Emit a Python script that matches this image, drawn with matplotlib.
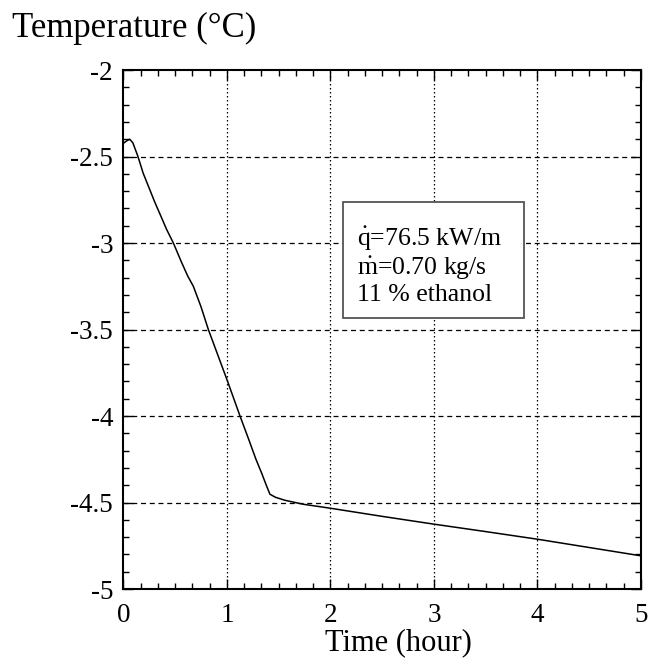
import matplotlib
matplotlib.use("Agg")
import matplotlib.pyplot as plt
from matplotlib.ticker import MultipleLocator
from matplotlib.patches import Rectangle

time_h = [0, 0.03, 0.06, 0.09, 0.14, 0.19, 0.30, 0.418, 0.482, 0.56, 0.62, 0.675,
          0.75, 0.82, 0.91, 1.0, 1.126, 1.21, 1.28, 1.335, 1.38, 1.415, 1.47, 1.56,
          1.737, 2.0, 2.5, 3.0, 3.5, 4.0, 4.5, 5.0]
temp_c = [-2.423, -2.41, -2.40, -2.42, -2.50, -2.596, -2.76, -2.923, -3.0, -3.11,
          -3.19, -3.25, -3.37, -3.5, -3.645, -3.79, -4.0, -4.135, -4.25, -4.33,
          -4.40, -4.452, -4.47, -4.487, -4.51, -4.533, -4.58, -4.625, -4.668,
          -4.712, -4.76, -4.808]
x_ticks = [0, 1, 2, 3, 4, 5]
x_tick_labels = ["0", "1", "2", "3", "4", "5"]
y_ticks = [-5, -4.5, -4, -3.5, -3, -2.5, -2]
y_tick_labels = ["-5", "-4.5", "-4", "-3.5", "-3", "-2.5", "-2"]
annotation_lines = [r"$\dot{\mathrm{q}}$=76.5 kW/m", r"$\dot{\mathrm{m}}$=0.70 kg/s",
                    "11 % ethanol"]

plt.rcParams["mathtext.fontset"] = "custom"
plt.rcParams["mathtext.rm"] = "Liberation Serif"
plt.rcParams["mathtext.it"] = "Liberation Serif:italic"
serif = ["Liberation Serif", "DejaVu Serif"]

fig = plt.figure(figsize=(6.52, 6.67), dpi=100)
ax = fig.add_axes([0.1894, 0.1169, 0.7936, 0.7781])

ax.plot(time_h, temp_c, color="black", lw=1.1)

ax.set_xlim(0, 5)
ax.set_ylim(-5, -2)
ax.set_xticks(x_ticks)
ax.set_xticklabels(x_tick_labels, fontfamily=serif, fontsize=19.5)
ax.set_yticks(y_ticks)
ax.set_yticklabels(y_tick_labels, fontfamily=serif, fontsize=19.5)
ax.xaxis.set_minor_locator(MultipleLocator(1/6))
ax.yaxis.set_minor_locator(MultipleLocator(0.1))
ax.tick_params(which="both", direction="in", top=True, right=True, color="black")
ax.tick_params(which="major", length=7, width=1)
ax.tick_params(which="minor", length=4, width=1)
ax.tick_params(axis="x", which="major", pad=10)
ax.tick_params(axis="y", which="major", pad=7.5)

for yv in y_ticks[1:-1]:
    ax.axhline(yv, color="black", lw=0.9, ls=(0, (4, 3)), zorder=0)
for xv in x_ticks[1:-1]:
    ax.axvline(xv, color="black", lw=0.9, ls=(0, (1.2, 2)), zorder=0)

for s in ax.spines.values():
    s.set_linewidth(1.5)

fig.text(398.5 / 652, 1 - 650 / 667, "Time (hour)", fontfamily=serif, fontsize=22,
         ha="center", va="baseline")
fig.text(12 / 652, 1 - 36.7 / 667, "Temperature (°C)", fontfamily=serif,
         fontsize=25, ha="left", va="baseline")

# annotation box
ax.add_patch(Rectangle((2.12, -3.431), 1.75, 0.669, facecolor="white",
                       edgecolor="#555555", lw=1.3, zorder=3))
for yb, line in zip([-3.02, -3.183, -3.333], annotation_lines):
    ax.text(2.256, yb, line, fontfamily=serif, fontsize=18.5, ha="left",
            va="baseline", zorder=4)

fig.savefig("out.png", dpi=100)
